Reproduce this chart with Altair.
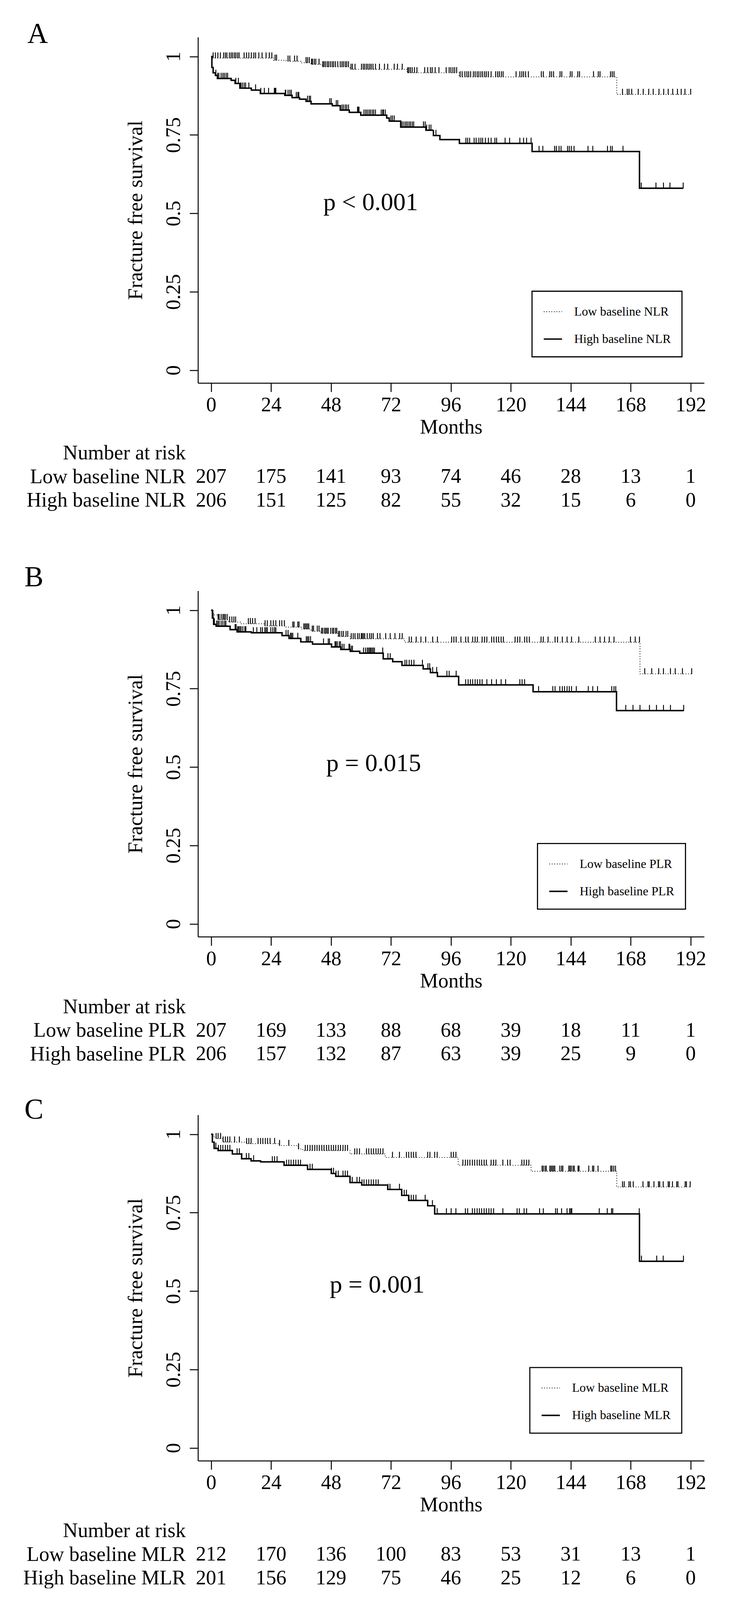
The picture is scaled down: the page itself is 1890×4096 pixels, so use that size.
import altair as alt
import pandas as pd

S = 0.936
FONT = "Liberation Serif"
W = 1385 * S
HP = 946 * S
XDOM = [-5.27, 197.4]
YDOM = [-0.0408, 1.0618]
MONTH_TICKS = [0, 24, 48, 72, 96, 120, 144, 168, 192]
SURV_TICKS = [0, 0.25, 0.5, 0.75, 1]

# ---------------- Panel A (NLR) ----------------
A_low_t = [0, 0.5, 25, 30, 36, 40, 44.5, 55.6, 78.5, 99.3, 162.4]
A_low_s = [1.0, 0.995, 0.988, 0.985, 0.980, 0.975, 0.967, 0.959, 0.948, 0.935, 0.879]
A_low_end = 192.0
A_high_t = [0, 0.3, 0.8, 1.7, 2.5, 8.0, 9.6, 11.5, 16.1, 19.7, 29.5, 32.4, 35.4, 38.0, 40.0,
            48.5, 51.7, 55.3, 59.9, 70.3, 71.3, 75.9, 86.0, 89.0, 91.6, 99.4, 128.5, 171.5]
A_high_s = [1.0, 0.965, 0.948, 0.940, 0.930, 0.924, 0.914, 0.899, 0.893, 0.882, 0.876, 0.869, 0.864, 0.857, 0.849,
            0.843, 0.829, 0.822, 0.813, 0.804, 0.794, 0.775, 0.765, 0.748, 0.735, 0.723, 0.697, 0.580]
A_high_end = 189.0
A_low_cens = [0.8, 1.7, 2.7, 3.7, 5.0, 5.7, 6.3, 7.3, 8.0, 8.6, 9.3, 9.9, 10.6, 11.2, 13.2, 14.2, 15.1, 16.1,
              17.1, 17.8, 19.1, 20.4, 22.0, 23.3, 24.3, 25.6, 26.2, 30.8, 31.5, 33.4, 34.4, 38.0, 38.6, 39.3,
              40.2, 40.6, 41.3, 41.9, 43.2, 44.7, 45.2, 45.8, 46.5, 47.1, 47.8, 48.5, 49.1, 49.8, 50.7, 51.7,
              52.4, 53.0, 53.7, 54.3, 55.0, 56.0, 56.6, 57.6, 60.2, 60.9, 61.5, 62.2, 62.8, 63.5, 64.1, 64.8,
              65.8, 67.4, 69.4, 70.7, 73.3, 74.6, 76.5, 78.7, 79.2, 79.8, 80.5, 81.4, 82.4, 85.5, 86.7, 87.8,
              88.5, 89.7, 91.2, 94.1, 95.3, 96.0, 96.8, 97.5, 98.3, 99.7, 100.5, 101.6, 102.4, 103.1, 103.9,
              105.0, 105.7, 106.5, 107.2, 108.0, 108.7, 109.5, 110.2, 111.0, 112.1, 113.9, 114.7, 115.4, 116.2,
              116.9, 122.1, 123.6, 124.4, 125.1, 125.9, 127.0, 132.2, 133.0, 135.6, 136.3, 137.1, 139.7, 140.4,
              143.8, 144.5, 146.8, 147.5, 153.1, 155.0, 155.7, 159.9, 160.6, 161.3, 164.7, 166.6, 167.3, 168.4,
              171.0, 173.0, 175.2, 177.0, 179.3, 181.2, 183.0, 184.8, 186.7, 188.2, 189.7, 192.0]
A_high_cens = [1.9, 2.6, 3.1, 4.0, 4.7, 5.3, 6.0, 6.6, 9.9, 10.9, 11.9, 12.5, 13.2, 13.8, 15.1, 17.8, 19.9,
               21.3, 23.0, 25.3, 25.6, 25.9, 29.7, 29.9, 30.8, 31.5, 32.1, 34.1, 34.7, 35.1, 38.6, 39.3, 39.8,
               47.5, 48.1, 50.1, 50.7, 52.4, 53.0, 53.7, 54.3, 55.0, 58.6, 58.9, 59.2, 61.2, 61.9, 62.5, 63.2,
               63.8, 64.5, 65.1, 65.8, 68.1, 68.7, 69.0, 69.7, 72.0, 72.6, 73.3, 76.5, 77.2, 77.9, 78.5, 79.2,
               79.8, 80.5, 81.1, 85.0, 85.7, 86.3, 87.3, 88.0, 90.0, 102.0, 102.7, 103.5, 105.3, 106.1, 107.2,
               108.0, 108.7, 109.8, 111.0, 112.1, 113.6, 114.3, 117.7, 119.5, 123.6, 125.1, 126.3, 128.1, 131.3,
               132.8, 137.5, 138.2, 139.3, 140.1, 142.7, 143.4, 144.2, 145.3, 150.9, 152.8, 158.7, 159.9, 160.6,
               164.9, 172.2, 178.1, 181.1, 183.7, 189.0]
A_risk_low = [207, 175, 141, 93, 74, 46, 28, 13, 1]
A_risk_high = [206, 151, 125, 82, 55, 32, 15, 6, 0]

# ---------------- Panel B (PLR) ----------------
B_low_t = [0, 0.9, 2.7, 6.9, 11.8, 21.5, 30.0, 36.0, 40.0, 44.0, 50.8, 55.7, 77.4, 171.7]
B_low_s = [1.0, 0.985, 0.970, 0.962, 0.957, 0.950, 0.946, 0.940, 0.933, 0.926, 0.916, 0.909, 0.898, 0.797]
B_low_end = 192.4
B_high_t = [0, 0.5, 1.0, 2.0, 7.6, 10.4, 16.1, 28.4, 31.2, 35.9, 40.6, 48.2, 51.9, 55.7, 59.5, 68.9,
            72.7, 76.4, 84.9, 87.8, 90.6, 99.1, 128.9, 162.3]
B_high_s = [1.0, 0.975, 0.955, 0.949, 0.938, 0.931, 0.928, 0.919, 0.910, 0.899, 0.892, 0.883, 0.875, 0.869,
            0.863, 0.845, 0.836, 0.824, 0.813, 0.801, 0.789, 0.762, 0.740, 0.680]
B_high_end = 189.2
B_low_cens = [2.8, 3.2, 4.0, 4.7, 5.2, 5.7, 6.4, 7.4, 8.3, 9.1, 9.8, 14.9, 15.7, 16.6, 17.6, 21.6, 22.5, 23.9,
              24.9, 25.9, 27.4, 28.3, 29.3, 32.7, 33.2, 34.7, 35.2, 37.1, 37.6, 38.1, 38.6, 39.1, 40.5, 41.0,
              42.5, 43.2, 44.2, 44.7, 45.4, 45.9, 46.4, 46.9, 47.9, 48.6, 49.1, 49.8, 50.3, 51.0, 51.5, 52.3,
              53.0, 54.0, 54.7, 56.1, 56.9, 57.6, 58.6, 59.3, 60.1, 60.5, 61.0, 61.5, 62.5, 63.5, 64.2, 64.9,
              66.6, 67.6, 69.9, 71.7, 73.6, 75.5, 76.5, 79.3, 80.2, 82.1, 84.0, 85.9, 88.7, 90.6, 96.3, 97.2,
              98.1, 100.0, 101.9, 102.9, 104.7, 105.7, 106.6, 108.5, 109.5, 110.4, 112.3, 113.2, 114.2, 115.1,
              116.1, 117.0, 121.7, 122.7, 123.6, 125.5, 126.4, 127.4, 132.1, 133.0, 134.9, 137.7, 138.7, 140.6,
              142.5, 144.3, 147.2, 153.8, 155.7, 157.5, 159.4, 161.3, 167.9, 169.8, 171.5, 173.6, 176.4, 179.2,
              181.1, 183.9, 185.8, 188.7, 192.4]
B_high_cens = [0.8, 1.3, 2.2, 2.7, 3.2, 4.0, 4.7, 5.4, 5.9, 9.6, 10.0, 10.6, 11.0, 11.5, 12.0, 12.7, 13.5,
               13.9, 16.9, 18.3, 19.8, 20.5, 21.5, 22.0, 22.5, 23.9, 24.7, 25.4, 25.9, 30.0, 30.8, 31.8, 32.2,
               32.7, 34.7, 38.1, 38.6, 39.1, 39.8, 45.0, 46.9, 47.4, 49.6, 50.0, 50.5, 51.3, 51.8, 52.5, 53.2,
               55.2, 55.5, 56.1, 56.6, 61.0, 61.8, 62.5, 63.0, 63.5, 63.9, 64.4, 64.9, 65.4, 68.7, 70.8, 71.7,
               77.6, 78.3, 79.3, 80.2, 81.2, 84.6, 86.8, 87.5, 88.7, 90.3, 94.4, 95.3, 98.1, 101.9, 102.9, 103.8,
               104.7, 105.7, 106.6, 107.6, 108.5, 110.4, 112.3, 114.2, 116.1, 117.9, 123.6, 124.5, 125.5, 131.1,
               136.8, 137.7, 139.6, 140.6, 141.5, 142.5, 143.4, 144.3, 146.2, 151.0, 152.8, 154.7, 160.4, 161.3,
               162.0, 166.0, 168.9, 171.7, 175.5, 178.3, 181.1, 183.9, 189.2]
B_risk_low = [207, 169, 133, 88, 68, 39, 18, 11, 1]
B_risk_high = [206, 157, 132, 87, 63, 39, 25, 9, 0]

# ---------------- Panel C (MLR) ----------------
C_low_t = [0, 0.9, 1.9, 4.7, 14.1, 27.3, 34.9, 36.7, 55.6, 69.7, 98.9, 128.1, 162.4]
C_low_s = [1.0, 0.992, 0.986, 0.975, 0.970, 0.964, 0.953, 0.948, 0.937, 0.926, 0.901, 0.882, 0.832]
C_low_end = 192.0
C_high_t = [0, 0.5, 1.2, 2.8, 8.5, 12.2, 16.0, 19.8, 29.2, 38.6, 48.1, 49.9, 55.6, 60.3, 70.7, 76.3,
            79.1, 86.7, 89.5, 171.5]
C_high_s = [1.0, 0.975, 0.955, 0.948, 0.937, 0.922, 0.915, 0.912, 0.901, 0.888, 0.875, 0.866, 0.846, 0.838,
            0.824, 0.805, 0.789, 0.772, 0.746, 0.595]
C_high_end = 189.2
C_low_cens = [2.0, 2.8, 3.8, 4.8, 5.7, 6.6, 7.5, 9.4, 11.3, 14.2, 15.1, 16.0, 18.8, 19.8, 20.7, 21.7, 22.6,
              23.6, 25.4, 27.4, 31.1, 35.0, 37.7, 38.6, 39.6, 40.5, 41.5, 42.4, 43.3, 44.3, 45.2, 46.2, 47.1,
              48.1, 49.0, 49.9, 50.9, 51.8, 52.8, 53.7, 54.6, 57.5, 58.4, 59.4, 62.2, 63.1, 64.1, 65.0, 66.0,
              66.9, 67.8, 68.8, 72.6, 75.4, 78.2, 79.1, 80.1, 81.0, 82.0, 86.7, 87.6, 89.5, 90.5, 96.1, 97.0,
              98.0, 100.8, 101.8, 102.7, 103.6, 104.6, 105.5, 106.5, 107.4, 108.3, 109.3, 110.2, 112.1, 113.1,
              114.0, 116.8, 118.7, 119.7, 124.4, 125.3, 126.3, 127.2, 132.5, 133.0, 133.7, 134.2, 135.6, 136.1,
              136.6, 137.1, 137.6, 139.6, 140.3, 140.8, 143.2, 143.7, 144.2, 144.9, 145.4, 146.9, 147.3, 151.2,
              152.7, 153.2, 154.9, 160.0, 160.5, 161.2, 161.9, 164.7, 165.4, 167.3, 167.9, 169.0, 172.9, 174.9,
              175.4, 177.3, 179.1, 179.6, 181.0, 183.0, 183.5, 184.7, 186.4, 186.9, 189.8, 190.3, 191.8]
C_high_cens = [1.9, 2.9, 3.8, 4.7, 5.7, 6.6, 7.5, 10.4, 11.3, 12.3, 14.1, 15.1, 17.0, 24.5, 25.4, 26.4, 30.2,
               31.1, 32.0, 33.0, 33.9, 34.9, 35.8, 39.6, 40.5, 48.2, 49.0, 50.0, 50.9, 52.8, 53.7, 54.6, 55.7,
               56.5, 58.4, 59.4, 60.4, 61.2, 62.2, 63.1, 64.1, 65.0, 66.0, 66.9, 70.8, 71.6, 75.4, 77.3, 78.2,
               79.2, 80.1, 81.0, 82.0, 85.7, 88.6, 90.5, 94.2, 96.1, 98.0, 101.8, 102.7, 104.6, 105.5, 106.5,
               107.4, 108.3, 109.3, 110.2, 111.2, 112.1, 113.1, 116.8, 122.5, 123.4, 125.3, 126.3, 131.5, 133.0,
               137.9, 138.6, 140.3, 142.5, 143.5, 144.0, 144.4, 155.4, 158.6, 160.3, 160.8, 171.4, 172.3, 178.4,
               181.0, 189.1]
C_risk_low = [212, 170, 136, 100, 83, 53, 31, 13, 1]
C_risk_high = [201, 156, 129, 75, 46, 25, 12, 6, 0]


def level_at(ts, ss, t):
    lvl = ss[0]
    for ti, si in zip(ts, ss):
        if t >= ti:
            lvl = si
    return lvl


xscale = alt.Scale(domain=XDOM, zero=False, nice=False)
yscale = alt.Scale(domain=YDOM, zero=False, nice=False)

FS = 56 * S
GAP = 160          # vertical spacing (reference px) between stacked plot / table blocks
ROW_STEP = 64.5    # reference px between risk-table rows
FIRST_ROW = 191    # reference px from x-axis line to first table row

xaxis = alt.Axis(
    values=MONTH_TICKS, title="Months", titleFont=FONT, titleFontSize=FS, titleFontWeight="normal",
    titleColor="black", titleX=W / 2, titleY=138 * S, titleBaseline="alphabetic", titleAlign="center",
    labelFont=FONT, labelFontSize=FS, labelColor="black", labelBaseline="alphabetic", labelPadding=53 * S,
    labelFlush=False, labelOverlap=False, tickSize=24 * S, tickWidth=2.5, tickColor="black",
    domainWidth=2.5, domainColor="black", grid=False,
)
yaxis = alt.Axis(
    values=SURV_TICKS, labelExpr="'' + datum.value", title="Fracture free survival", titleFont=FONT,
    titleFontSize=57 * S, titleFontWeight="normal", titleColor="black", titleAngle=270,
    titleX=-153 * S, titleY=473 * S, titleBaseline="alphabetic", titleAlign="center",
    labelFont=FONT, labelFontSize=FS, labelColor="black", labelAngle=270, labelAlign="center",
    labelBaseline="alphabetic", labelPadding=27 * S, labelFlush=False, labelOverlap=False,
    tickSize=23 * S, tickWidth=2.5, tickColor="black", domainWidth=2.5, domainColor="black", grid=False,
)


def panel(letter, tag, low, high, pinfo, risk_low, risk_high, letter_off, legend_off, table_h):
    low_lab = "Low baseline " + tag
    high_lab = "High baseline " + tag
    rows = []
    crow = []
    for lab, (ts, ss, end, cens) in ((low_lab, low), (high_lab, high)):
        for t, s in zip(ts, ss):
            rows.append({"group": lab, "t": t, "s": s})
        rows.append({"group": lab, "t": end, "s": ss[-1]})
        for t in cens:
            crow.append({"group": lab, "t": t, "s": level_at(ts, ss, t)})
    line_df = pd.DataFrame(rows)
    cens_df = pd.DataFrame(crow)

    leg = alt.Legend(
        title=None, orient="none", legendX=legend_off[0] * S, legendY=legend_off[1] * S,
        symbolType="stroke", symbolSize=(50 * S) ** 2, symbolStrokeColor="black",
        labelFont=FONT, labelFontSize=34 * S, labelColor="black", labelOffset=29,
        labelExpr="datum.label + '\u00a0\u00a0\u00a0'",
        rowPadding=27, padding=28, strokeColor="black", fillColor="white", labelLimit=0,
    )
    dom = [low_lab, high_lab]
    lines = alt.Chart(line_df).mark_line(interpolate="step-after", color="black").encode(
        x=alt.X("t:Q", scale=xscale, axis=xaxis),
        y=alt.Y("s:Q", scale=yscale, axis=yaxis),
        strokeDash=alt.StrokeDash("group:N", scale=alt.Scale(domain=dom, range=[[2, 4.5], [1, 0]]), legend=leg),
        strokeWidth=alt.StrokeWidth("group:N", scale=alt.Scale(domain=dom, range=[1.9, 3.7]), legend=leg),
    )
    ticks = alt.Chart(cens_df).mark_tick(
        orient="vertical", color="black", thickness=2.3, size=16 * S, yOffset=-7.5 * S, opacity=1
    ).encode(
        x=alt.X("t:Q", scale=xscale, axis=xaxis),
        y=alt.Y("s:Q", scale=yscale, axis=yaxis),
    )
    ptext = alt.Chart(pd.DataFrame([{"t": pinfo[1], "s": pinfo[2], "label": pinfo[0]}])).mark_text(
        align="left", baseline="alphabetic", font=FONT, fontSize=68 * S, color="black"
    ).encode(
        x=alt.X("t:Q", scale=xscale, axis=xaxis),
        y=alt.Y("s:Q", scale=yscale, axis=yaxis),
        text="label:N",
    )
    ltext = alt.Chart(pd.DataFrame([{"letter": letter}])).mark_text(
        align="left", baseline="alphabetic", font=FONT, fontSize=78 * S, color="black"
    ).encode(
        x=alt.value(letter_off[0] * S), y=alt.value(letter_off[1] * S), text="letter:N"
    )
    plot = alt.layer(lines, ticks, ptext, ltext).properties(width=W, height=HP)

    nar = "Number at risk"
    trows = []
    for lab, vals in ((low_lab, risk_low), (high_lab, risk_high)):
        for m, n in zip(MONTH_TICKS, vals):
            trows.append({"row": lab, "t": m, "n": n})
    tdf = pd.DataFrame(trows)
    outer = (table_h / ROW_STEP - 2) / 2
    align = (FIRST_ROW - GAP) / (table_h - 2 * ROW_STEP)
    table = alt.Chart(tdf).mark_text(
        align="center", baseline="middle", font=FONT, fontSize=FS, color="black"
    ).encode(
        x=alt.X("t:Q", scale=xscale, axis=None),
        y=alt.Y("row:N", scale=alt.Scale(type="point", domain=[nar, low_lab, high_lab], padding=outer, align=align),
                axis=alt.Axis(title=None, ticks=False, tickSize=0, domain=False, grid=False, labelPadding=34 * S,
                              labelFont=FONT, labelFontSize=FS, labelColor="black", labelLimit=0,
                              labelAlign="right", labelBaseline="middle")),
        text=alt.Text("n:Q", format="d"),
    ).properties(width=W, height=table_h * S)
    return plot, table


pA, tA = panel("A", "NLR", (A_low_t, A_low_s, A_low_end, A_low_cens), (A_high_t, A_high_s, A_high_end, A_high_cens),
               ("p < 0.001", 44.9, 0.5105), A_risk_low, A_risk_high, (-467, 16), (914, 695), 567 - 2 * GAP)
pB, tB = panel("B", "PLR", (B_low_t, B_low_s, B_low_end, B_low_cens), (B_high_t, B_high_s, B_high_end, B_high_cens),
               ("p = 0.015", 46.1, 0.487), B_risk_low, B_risk_high, (-475, -12), (929, 691), 486 - 2 * GAP)
pC, tC = panel("C", "MLR", (C_low_t, C_low_s, C_low_end, C_low_cens), (C_high_t, C_high_s, C_high_end, C_high_cens),
               ("p  = 0.001", 47.5, 0.495), C_risk_low, C_risk_high, (-475, 11), (908, 691), 170)

chart = alt.vconcat(pA, tA, pB, tB, pC, tC, spacing=GAP * S, bounds="flush").resolve_scale(
    x="independent", y="independent", strokeDash="independent", strokeWidth="independent"
).resolve_legend(strokeDash="independent", strokeWidth="independent").configure_view(
    stroke=None
).configure_legend(strokeWidth=2.8).properties(
    padding={"left": 50, "top": 43, "right": 5, "bottom": 0}
)

chart.save("out.html", embed_options={"renderer": "svg", "actions": False})
